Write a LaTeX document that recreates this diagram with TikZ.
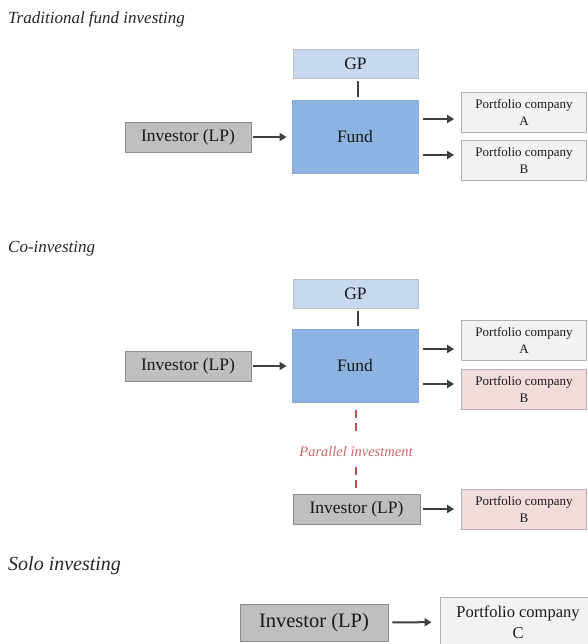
\documentclass[tikz,border=0pt]{standalone}
\usepackage{fontspec}
\setmainfont{Liberation Serif}
\usetikzlibrary{arrows.meta}

\definecolor{gpblue}{HTML}{C6D9F1}
\definecolor{fundblue}{HTML}{8DB3E2}
\definecolor{invgray}{HTML}{BFBFBF}
\definecolor{pfgray}{HTML}{F2F2F2}
\definecolor{pfpink}{HTML}{F2DCDB}
\definecolor{pardash}{HTML}{C0504D}
\definecolor{arrgray}{HTML}{404040}

\tikzset{
    box/.style={draw=#1, line width=0.8pt, inner sep=0pt, align=center, text=black!90},
    heading/.style={anchor=base west, inner sep=0pt, font=\fontsize{17}{20}\selectfont\itshape, text=black!85},
    gpbox/.style={box=black!25, fill=gpblue, minimum width=125pt, minimum height=29pt, font=\fontsize{17.5}{20}\selectfont},
    fundbox/.style={box=fundblue!80!gray, fill=fundblue, minimum width=126pt, minimum height=73pt, font=\fontsize{17.5}{20}\selectfont},
    invbox/.style={box=black!45, fill=invgray, minimum width=126pt, minimum height=30pt, font=\fontsize{17.5}{20}\selectfont},
    pfbox/.style={box=black!30, fill=pfgray, minimum width=125pt, minimum height=40pt, font=\fontsize{13}{17}\selectfont},
    arr/.style={-{Triangle[length=7pt,width=8pt]}, line width=2pt, draw=arrgray},
    link/.style={line width=2pt, draw=arrgray},
    parline/.style={line width=2pt, draw=pardash, dash pattern=on 8pt off 5pt}
}

\begin{document}
\begin{tikzpicture}[x=1pt,y=-1pt]
    \useasboundingbox (0,0) rectangle (587,644);

    % traditional fund investing
    \node[heading] (h1) at (8,24) {Traditional fund investing};
    \node[gpbox] (gp1) at (355.5,63.5) {GP};
    \node[fundbox] (fund1) at (355,137) {Fund};
    \node[invbox] (inv1) at (188,137) {Investor (LP)};
    \node[pfbox] (pa1) at (524,112) {Portfolio company\\A};
    \node[pfbox] (pb1) at (524,160) {Portfolio company\\B};
    \draw[link, shorten <=3pt, shorten >=3pt] ([xshift=2pt]gp1.south) -- ([xshift=2pt]gp1.south |- fund1.north);
    \draw[arr, shorten <=2pt, shorten >=5pt] (inv1) -- (fund1);
    \draw[arr, shorten <=5pt, shorten >=7pt] ([yshift=-7pt]pa1.west -| fund1.east) -- ([yshift=-7pt]pa1.west);
    \draw[arr, shorten <=5pt, shorten >=7pt] ([yshift=5pt]pb1.west -| fund1.east) -- ([yshift=5pt]pb1.west);

    % co-investing
    \node[heading] (h2) at (8,252) {Co-investing};
    \node[gpbox] (gp2) at (355.5,293.5) {GP};
    \node[fundbox] (fund2) at (355,366) {Fund};
    \node[invbox] (inv2) at (188,366) {Investor (LP)};
    \node[pfbox] (pa2) at (524,340.5) {Portfolio company\\A};
    \node[pfbox, fill=pfpink] (pb2) at (524,389) {Portfolio company\\B};
    \draw[link, shorten <=3pt, shorten >=3pt] ([xshift=2pt]gp2.south) -- ([xshift=2pt]gp2.south |- fund2.north);
    \draw[arr, shorten <=2pt, shorten >=5pt] (inv2) -- (fund2);
    \draw[arr, shorten <=5pt, shorten >=7pt] ([yshift=-8.5pt]pa2.west -| fund2.east) -- ([yshift=-8.5pt]pa2.west);
    \draw[arr, shorten <=5pt, shorten >=7pt] ([yshift=5pt]pb2.west -| fund2.east) -- ([yshift=5pt]pb2.west);

    \node[inner sep=0pt, text=pardash!85!white, font=\fontsize{14.5}{16}\selectfont\itshape] (par) at (356,452) {Parallel investment};
    \node[invbox, minimum width=127pt] (inv3) at (356.5,509) {Investor (LP)};
    \node[pfbox, fill=pfpink] (pb3) at (524,509) {Portfolio company\\B};
    \draw[parline, shorten <=7pt, shorten >=16pt] (fund2.south -| par) -- (par.north);
    \draw[parline, shorten <=10pt, shorten >=6pt] (par.south) -- (inv3.north -| par);
    \draw[arr, shorten <=3pt, shorten >=7pt] (inv3) -- (pb3);

    % solo investing
    \node[heading, font=\fontsize{20}{24}\selectfont\itshape] (h3) at (8,570) {Solo investing};
    \node[invbox, minimum width=148pt, minimum height=37pt, font=\fontsize{20.5}{24}\selectfont] (inv4) at (314,622.5) {Investor (LP)};
    \node[pfbox, minimum width=156pt, minimum height=50pt, font=\fontsize{16.5}{21}\selectfont] (pc) at (518,622) {Portfolio company\\C};
    \draw[arr, shorten <=4pt, shorten >=8pt] (inv4) -- (pc);
\end{tikzpicture}
\end{document}
